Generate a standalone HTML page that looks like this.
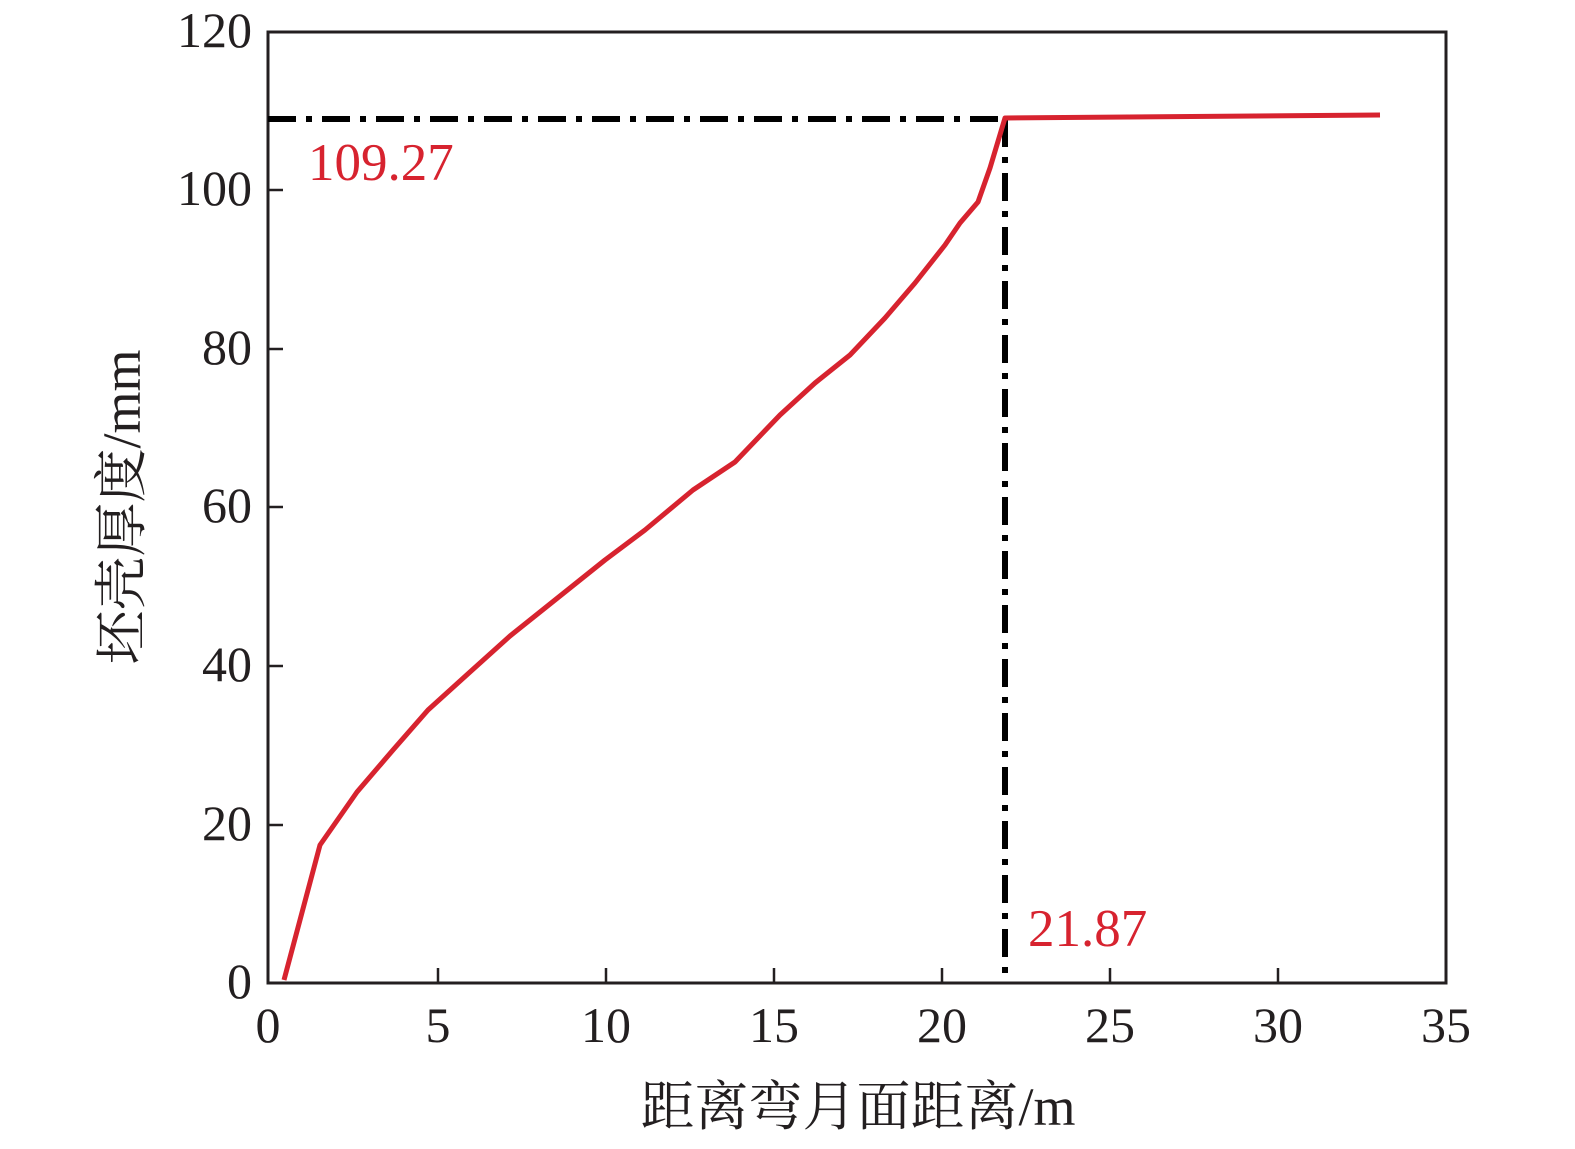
<!DOCTYPE html>
<html><head><meta charset="utf-8"><style>
body{margin:0;background:#fff}
svg{display:block}
text{font-family:"Liberation Serif","Noto Serif CJK SC",serif;fill:#231f20}
</style></head><body>
<svg width="1575" height="1149" viewBox="0 0 1575 1149">
<rect x="268" y="32" width="1178" height="951" fill="none" stroke="#231f20" stroke-width="3"/>
<g stroke="#231f20" stroke-width="2.5">
<line x1="438" y1="983" x2="438" y2="968"/><line x1="606" y1="983" x2="606" y2="968"/>
<line x1="774" y1="983" x2="774" y2="968"/><line x1="942" y1="983" x2="942" y2="968"/>
<line x1="1110" y1="983" x2="1110" y2="968"/><line x1="1278" y1="983" x2="1278" y2="968"/>
<line x1="268" y1="825" x2="283" y2="825"/><line x1="268" y1="666" x2="283" y2="666"/>
<line x1="268" y1="507" x2="283" y2="507"/><line x1="268" y1="349" x2="283" y2="349"/>
<line x1="268" y1="190" x2="283" y2="190"/>
</g>
<g font-size="50" text-anchor="end">
<text x="252" y="998">0</text><text x="252" y="840">20</text><text x="252" y="681">40</text>
<text x="252" y="522">60</text><text x="252" y="364">80</text><text x="252" y="205">100</text>
<text x="252" y="47">120</text>
</g>
<g font-size="50" text-anchor="middle">
<text x="268" y="1042">0</text><text x="438" y="1042">5</text><text x="606" y="1042">10</text>
<text x="774" y="1042">15</text><text x="942" y="1042">20</text><text x="1110" y="1042">25</text>
<text x="1278" y="1042">30</text><text x="1446" y="1042">35</text>
</g>
<text x="858" y="1125" font-size="54" text-anchor="middle">距离弯月面距离/m</text>
<text transform="translate(140,507) rotate(-90)" font-size="54" text-anchor="middle">坯壳厚度/mm</text>
<g stroke="#000" stroke-width="6" fill="none" stroke-dasharray="28,10,6,10">
<line x1="268" y1="119" x2="1005" y2="119"/>
<line x1="1005" y1="119" x2="1005" y2="983"/>
</g>
<polyline fill="none" stroke="#d7232f" stroke-width="5" stroke-linejoin="round" points="284,980 320,845 357,792 393,750 428,710 470,672 510,636 550,604 605,560 645,530 693,490 735,462 780,415 815,383 850,355 885,318 915,283 945,245 960,223 978,202 990,168 1005,118 1380,115"/>
<text x="308" y="180" font-size="53" style="fill:#d7232f">109.27</text>
<text x="1028" y="946" font-size="53" style="fill:#d7232f">21.87</text>
</svg>
</body></html>
